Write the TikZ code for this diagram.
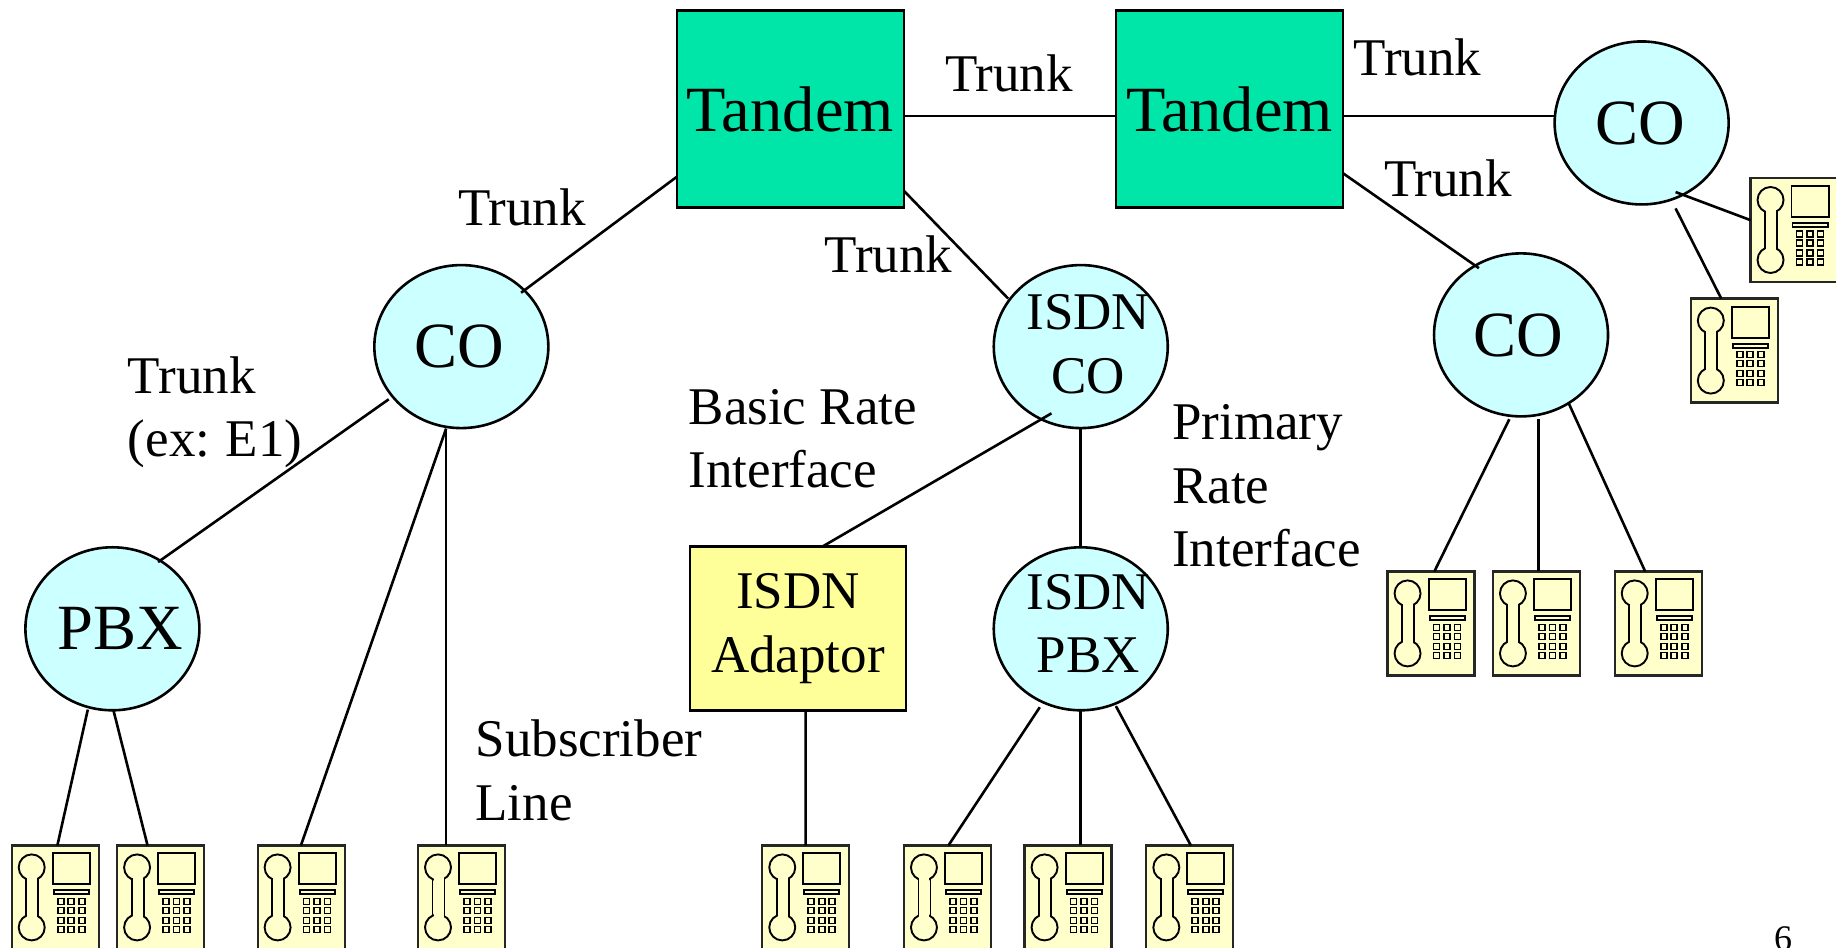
\documentclass[tikz,border=0pt]{standalone}
\usepackage{fontspec}
\setmainfont{Liberation Serif}
\usetikzlibrary{shapes.geometric}
\definecolor{tandemc}{HTML}{00E6A8}
\definecolor{circlec}{HTML}{CCFFFF}
\definecolor{adaptc}{HTML}{FFFF99}
\definecolor{phonec}{HTML}{FFFFCC}
\newcommand{\bigf}{\fontsize{64.5}{64.5}\selectfont}
\newcommand{\smf}{\fontsize{53}{63.5}\selectfont}
\newcommand{\tl}[3]{\makebox[0pt]{\hspace*{#1}\raisebox{0pt}[\height][#2]{#3}}}
\tikzset{
  office/.style={ellipse,draw=black,line width=2.6pt,fill=circlec,minimum width=174pt,minimum height=163pt,inner sep=0pt,align=center,font=\bigf},
  isdnoffice/.style={office,font=\smf},
  tandembox/.style={rectangle,draw=black,line width=2.6pt,fill=tandemc,minimum width=227pt,minimum height=197pt,inner sep=0pt,font=\bigf},
  adaptbox/.style={rectangle,draw=black,line width=2.6pt,fill=adaptc,minimum width=216pt,minimum height=164pt,inner sep=0pt,align=center,font=\smf},
  phonebox/.style={rectangle,draw=black!85,line width=2.2pt,fill=phonec,minimum width=87pt,minimum height=104pt,inner sep=0pt,outer sep=0pt,anchor=north west},
  lbl/.style={anchor=base west,inner sep=0pt,font=\smf,align=left},
  wire/.style={draw=black,line width=2.6pt},
  phl/.style={draw=black,line width=1.9pt}
}
\newcommand{\phone}[3]{%
  \node[phonebox] (#1) at (#2,#3) {};
  \begin{scope}[shift={(#2,#3)},x=1pt,y=-1pt]
    \draw[phl,fill=phonec] (20,22) circle (13pt) (20,82) circle (13pt);
    \draw[phl] (14.5,33) -- (14.5,71) (26.5,33) -- (26.5,71);
    \fill[phonec] (15.5,30) rectangle (25.5,74);
    \draw[phl,fill=phonec] (41,8) rectangle (78,39);
    \draw[phl,fill=phonec] (42,45) rectangle (77,49);
    \foreach \bx in {46,56.5,67} \foreach \by in {53,62,72,81}
      \draw[phl,line width=1.7pt] (\bx,\by) rectangle ++(6,6);
  \end{scope}}
\begin{document}
\begin{tikzpicture}[x=1.17092pt,y=-1.17092pt]
\useasboundingbox (0,0) rectangle (1568,809.6);
% switches
\node[tandembox] (T1) at (675,93) {\tl{0pt}{-2pt}{Tandem}};
\node[tandembox] (T2) at (1050,93) {\tl{0pt}{-2pt}{Tandem}};
\node[office] (CO1) at (394,296) {\tl{-5pt}{-2pt}{CO}};
\node[isdnoffice] (ICO) at (923,296) {\tl{15pt}{0pt}{ISDN}\\\tl{15pt}{5pt}{CO}};
\node[office] (COt) at (1402,105) {\tl{-3pt}{-4pt}{CO}};
\node[office] (CO2) at (1299,286) {\tl{-5pt}{-2pt}{CO}};
\node[office] (PBX) at (96,537) {\tl{16pt}{-2pt}{PBX}};
\node[isdnoffice] (IPBX) at (923,537) {\tl{15pt}{0pt}{ISDN}\\\tl{15pt}{11pt}{PBX}};
\node[adaptbox] (AD) at (681.5,537) {ISDN\\Adaptor};
% phones
\phone{pa}{10}{722}
\phone{pb}{100}{722}
\phone{pc}{220}{722}
\phone{pd}{357}{722}
\phone{pe}{651}{722}
\phone{pf}{772}{722}
\phone{pg}{875}{722}
\phone{ph}{979}{722}
\phone{pi}{1185}{488}
\phone{pj}{1275}{488}
\phone{pk}{1379}{488}
\phone{pl}{1444}{255}
\phone{pm}{1495}{152}
% connectors
\draw[wire] ([shift={(-97,58)}]T1.center) -- ([shift={(51,-46)}]CO1.center);
\draw[wire] ([shift={(97,70)}]T1.center) -- ([shift={(-62,-41)}]ICO.center);
\draw[wire] ([shift={(97,6)}]T1.center) -- ([shift={(-97,6)}]T2.center);
\draw[wire] ([shift={(97,6)}]T2.center) -- ([shift={(-74,-6)}]COt.center);
\draw[wire] ([shift={(97,55)}]T2.center) -- ([shift={(-36,-57)}]CO2.center);
\draw[wire] ([shift={(29,59)}]COt.center) -- ([shift={(0,36)}]pm.north west);
\draw[wire] ([shift={(29,73)}]COt.center) -- ([shift={(26,0)}]pl.north west);
\draw[wire] ([shift={(-10,72)}]CO2.center) -- ([shift={(40,0)}]pi.north west);
\draw[wire] ([shift={(15,72)}]CO2.center) -- ([shift={(39,0)}]pj.north west);
\draw[wire] ([shift={(41,59)}]CO2.center) -- ([shift={(26,0)}]pk.north west);
\draw[wire] ([shift={(-62,45)}]CO1.center) -- ([shift={(39,-57)}]PBX.center);
\draw[wire] ([shift={(-13,70)}]CO1.center) -- ([shift={(37,0)}]pc.north west);
\draw[wire] ([shift={(-13,70)}]CO1.center) -- ([shift={(24,0)}]pd.north west);
\draw[wire] ([shift={(-21,69)}]PBX.center) -- ([shift={(39,0)}]pa.north west);
\draw[wire] ([shift={(1,70)}]PBX.center) -- ([shift={(26,0)}]pb.north west);
\draw[wire] ([shift={(-25,57)}]ICO.center) -- ([shift={(20.5,-70)}]AD.center);
\draw[wire] ([shift={(0,70)}]ICO.center) -- ([shift={(0,-70)}]IPBX.center);
\draw[wire] ([shift={(6.5,70)}]AD.center) -- ([shift={(37,0)}]pe.north west);
\draw[wire] ([shift={(-35,67)}]IPBX.center) -- ([shift={(38,0)}]pf.north west);
\draw[wire] ([shift={(0,70)}]IPBX.center) -- ([shift={(48,0)}]pg.north west);
\draw[wire] ([shift={(30,66)}]IPBX.center) -- ([shift={(38,0)}]ph.north west);
% labels
\node[lbl] (l1) at (807,78.5) {Trunk};
\node[lbl] (l2) at (1156,64.5) {Trunk};
\node[lbl] (l3) at (1182,167.5) {Trunk};
\node[lbl] (l4) at (391,192.5) {Trunk};
\node[lbl] (l5) at (704,232.5) {Trunk};
\node[lbl] (l6) at (109,390) {Trunk\\(ex:\hspace{-2pt} E1)};
\node[lbl] (l7) at (588,416.5) {Basic Rate\\Interface};
\node[lbl] (l8) at (1001,484) {Primary\\Rate\\Interface};
\node[lbl] (l9) at (406,700.5) {Subscriber\\Line};
\node[anchor=base west,inner sep=0pt,font=\fontsize{36}{36}\selectfont] (pg6) at (1515,812) {6};
\end{tikzpicture}
\end{document}
